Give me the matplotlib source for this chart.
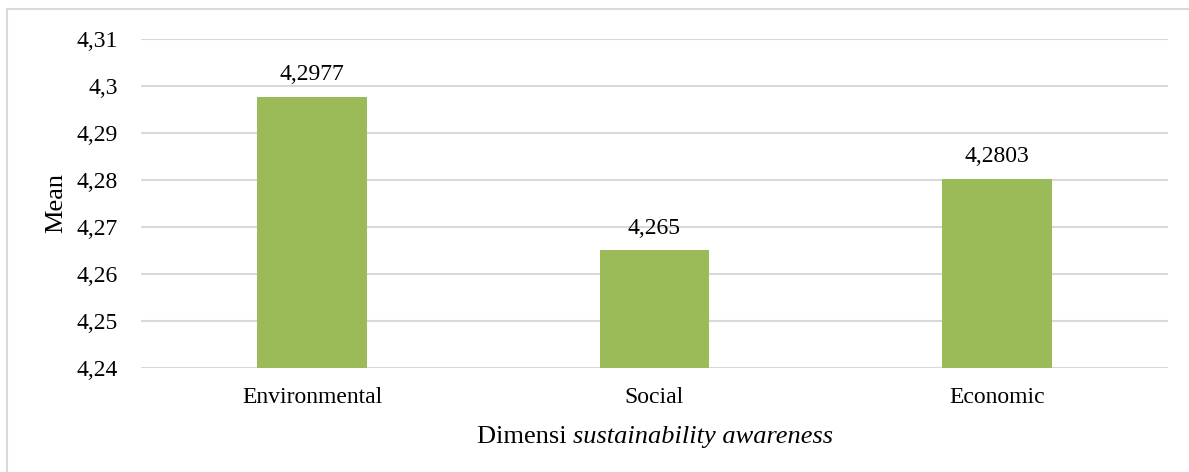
import matplotlib
matplotlib.use("Agg")
import matplotlib.pyplot as plt
from matplotlib.patches import Rectangle
from matplotlib.offsetbox import TextArea, HPacker, AnchoredOffsetbox

categories = ["Environmental", "Social", "Economic"]
means = [4.2977, 4.265, 4.2803]
value_labels = ["4,2977", "4,265", "4,2803"]
yticks = [4.24, 4.25, 4.26, 4.27, 4.28, 4.29, 4.30, 4.31]
ytick_labels = ["4,24", "4,25", "4,26", "4,27", "4,28", "4,29", "4,3", "4,31"]

plt.rcParams['font.family'] = ['Liberation Serif', 'DejaVu Serif']

W, H = 1189, 472
fig = plt.figure(figsize=(W/100, H/100), dpi=100)
ax = fig.add_axes([141/W, 1-368/H, (1168-141)/W, (368-39)/H])

x = list(range(len(categories)))
ax.bar(x, means, width=0.32, color="#9BBB59", zorder=3)
ax.set_xlim(-0.5, 2.5)
ax.set_ylim(4.24, 4.31)
ax.set_yticks(yticks)
ax.set_yticklabels(ytick_labels, fontsize=17)
ax.set_xticks(x)
ax.set_xticklabels(categories, fontsize=17)
ax.tick_params(axis='both', length=0, colors="#000000")
ax.tick_params(axis='x', pad=14)
ax.tick_params(axis='y', pad=16.5)
ax.grid(axis='y', color="#D9D9D9", linewidth=1.5, zorder=0)
for s in ax.spines.values():
    s.set_visible(False)

for xi, m, lab in zip(x, means, value_labels):
    ax.annotate(lab, (xi, m), xytext=(0, 12), textcoords="offset points",
                ha="center", va="baseline", fontsize=17)

fig.text(56/W, 1-203/H, "Mean", rotation=90, ha="center", va="center", fontsize=19)

ta1 = TextArea("Dimensi ", textprops=dict(fontsize=19))
ta2 = TextArea("sustainability awareness", textprops=dict(fontsize=19, style='italic'))
box = HPacker(children=[ta1, ta2], align="baseline", pad=0, sep=0)
ab = AnchoredOffsetbox(loc='center', child=box, frameon=False,
                       bbox_to_anchor=(655/W, 1-437/H), bbox_transform=fig.transFigure,
                       pad=0, borderpad=0)
fig.add_artist(ab)

fig.add_artist(Rectangle((7/W, -0.1), 2, (1-9/H)+0.1, transform=fig.transFigure,
                         fill=False, edgecolor="#D9D9D9", linewidth=1.5))

fig.savefig("out.png", dpi=100)
